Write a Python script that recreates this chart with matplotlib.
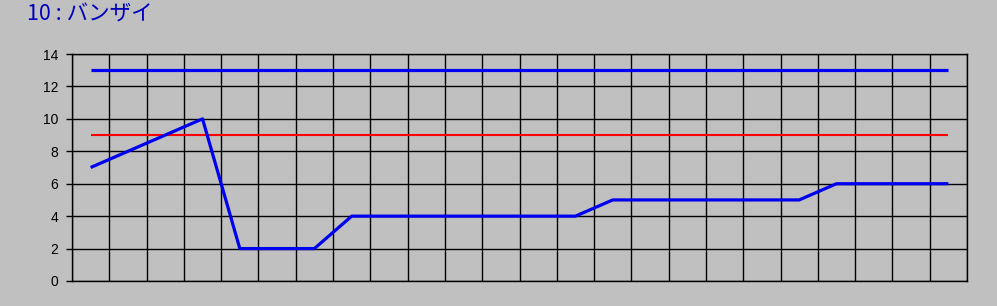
import matplotlib
matplotlib.use("Agg")
import matplotlib.pyplot as plt
import numpy as np

categories = list(range(1, 25))
series_main = [7, 8, 9, 10, 2, 2, 2, 4, 4, 4, 4, 4, 4, 4, 5, 5, 5, 5, 5, 5, 6, 6, 6, 6]
series_upper = [13] * 24
series_red = [9] * 24
y_ticks = [0, 2, 4, 6, 8, 10, 12, 14]
title = "10 : バンザイ"

bg = "#C0C0C0"
fig = plt.figure(figsize=(9.97, 3.06), dpi=100, facecolor=bg)
ax = fig.add_axes([72/997, 25/306, 895/997, 227/306])
ax.set_facecolor(bg)

x = np.arange(len(categories))
ax.plot(x, series_upper, color="#0000F0", lw=2.3, solid_capstyle="butt", zorder=3)
ax.plot(x, series_red, color="#FF0000", lw=1.5, solid_capstyle="butt", zorder=3)
ax.plot(x, series_main, color="#0000F0", lw=2.3, solid_capstyle="butt", zorder=4)

ax.set_xlim(-0.5, len(categories) - 0.5)
ax.set_ylim(0, 14)
ax.set_yticks(y_ticks)
ax.set_yticklabels([str(v) for v in y_ticks], fontfamily="Liberation Sans", fontsize=10)
ax.set_xticks(np.arange(-0.5, len(categories), 1))
ax.set_xticklabels([])
ax.tick_params(axis="x", length=0)
ax.tick_params(axis="y", length=4, width=1, color="black", pad=6)
ax.grid(True, color="black", lw=1)
ax.set_axisbelow(True)
for s in ax.spines.values():
    s.set_color("black")
    s.set_linewidth(1)

fig.text(27/997, 1 - 15/306, title, color="#0000C0", fontsize=15.5,
         family=["Noto Sans CJK JP", "DejaVu Sans"], va="center", ha="left")

fig.savefig("out.png", dpi=100, facecolor=bg)
